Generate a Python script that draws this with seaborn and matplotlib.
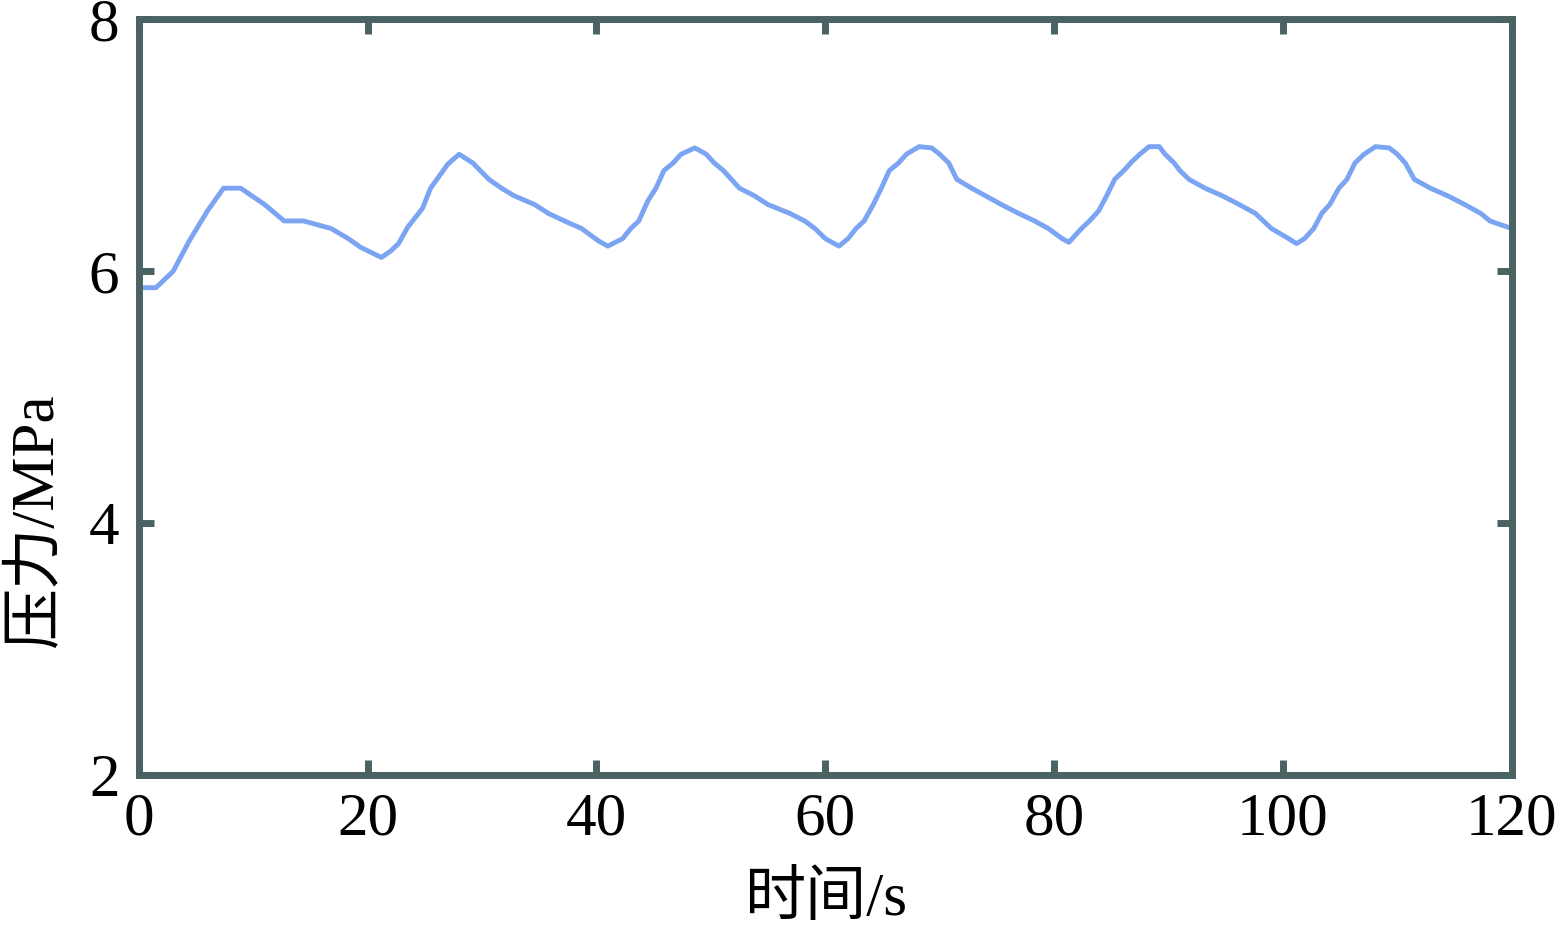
import matplotlib
matplotlib.use("Agg")
import matplotlib.pyplot as plt
import seaborn as sns
import pandas as pd

# 时间 (s) と 压力 (MPa)，図から読み取り
time_s = [0, 1.5, 3, 4.4, 6, 7.4, 8.9, 11, 12.7, 14.4, 16.8, 18.3, 19.4, 21.2,
          22, 22.7, 23.5, 24.8, 25.5, 27, 28, 29.2, 30.6, 31.7, 32.8, 34.6,
          35.8, 37.2, 38.7, 40.2, 41, 42.3, 43, 43.7, 44.5, 45.2, 45.9, 46.7,
          47.4, 48.6, 49.6, 50.3, 51.1, 52.5, 53.8, 55, 56.9, 58.2, 59.1, 60,
          61.2, 62, 62.7, 63.4, 64.2, 64.9, 65.6, 66.4, 67.1, 68.2, 69.3, 70,
          70.8, 71.5, 72.8, 74, 75.4, 76.9, 78.3, 79.5, 80.7, 81.3, 82.4, 83.1,
          83.9, 84.6, 85.3, 86.1, 86.8, 87.5, 88.3, 89.2, 89.7, 90.5, 91, 91.8,
          93.2, 94.7, 96.2, 97.6, 98.3, 99, 100.5, 101.2, 101.9, 102.7, 103.4,
          104.1, 104.9, 105.6, 106.3, 107.1, 108.1, 109.3, 110, 110.7, 111.5,
          112.9, 114.4, 115.9, 117.3, 118.1, 120]
pressure = [5.87, 5.87, 6.0, 6.24, 6.48, 6.66, 6.66, 6.53, 6.40, 6.40, 6.34,
            6.26, 6.19, 6.11, 6.16, 6.22, 6.35, 6.50, 6.66, 6.85, 6.93, 6.86,
            6.73, 6.66, 6.60, 6.53, 6.46, 6.40, 6.34, 6.24, 6.20, 6.26, 6.34,
            6.40, 6.56, 6.66, 6.80, 6.86, 6.93, 6.98, 6.93, 6.86, 6.80, 6.66,
            6.60, 6.53, 6.46, 6.40, 6.34, 6.26, 6.20, 6.26, 6.34, 6.40, 6.53,
            6.66, 6.80, 6.86, 6.93, 6.99, 6.98, 6.93, 6.86, 6.73, 6.66, 6.60,
            6.53, 6.46, 6.40, 6.34, 6.26, 6.23, 6.34, 6.40, 6.48, 6.60, 6.73,
            6.80, 6.87, 6.93, 6.99, 6.99, 6.93, 6.86, 6.80, 6.73, 6.66, 6.60,
            6.53, 6.46, 6.40, 6.34, 6.26, 6.22, 6.26, 6.34, 6.46, 6.53, 6.66,
            6.73, 6.86, 6.93, 6.99, 6.98, 6.93, 6.86, 6.73, 6.66, 6.60, 6.53,
            6.46, 6.40, 6.34]

x_ticks = [0, 20, 40, 60, 80, 100, 120]
y_ticks = [2, 4, 6, 8]

df = pd.DataFrame({'time': time_s, 'pressure': pressure})

sns.set_style("white")
plt.rcParams['font.family'] = ['Liberation Serif', 'Noto Sans CJK SC']

frame_color = '#4a6262'

fig = plt.figure(figsize=(15.6, 9.27), dpi=100)
ax = fig.add_axes([0.089, 0.164, 0.880, 0.815])

sns.lineplot(data=df, x='time', y='pressure', ax=ax,
             color='#4f86ee', linewidth=3.5, alpha=0.75)

ax.set_xlim(0, 120)
ax.set_ylim(2, 8)
ax.set_xticks(x_ticks)
ax.set_yticks(y_ticks)
ax.tick_params(direction='in', length=11, width=5, color=frame_color,
               labelsize=44, labelcolor='black', top=True, right=True,
               bottom=True, left=True)
ax.tick_params(axis='x', pad=12)
ax.tick_params(axis='y', pad=14)
for spine in ax.spines.values():
    spine.set_color(frame_color)
    spine.set_linewidth(5)

# 軸ラベル
ax.set_xlabel('时间/s', fontsize=44, color='black', labelpad=18)
ax.set_ylabel('压力/MPa', fontsize=44, color='black')
ax.yaxis.set_label_coords(-0.054, 0.336)

fig.savefig('out.png', dpi=100)
